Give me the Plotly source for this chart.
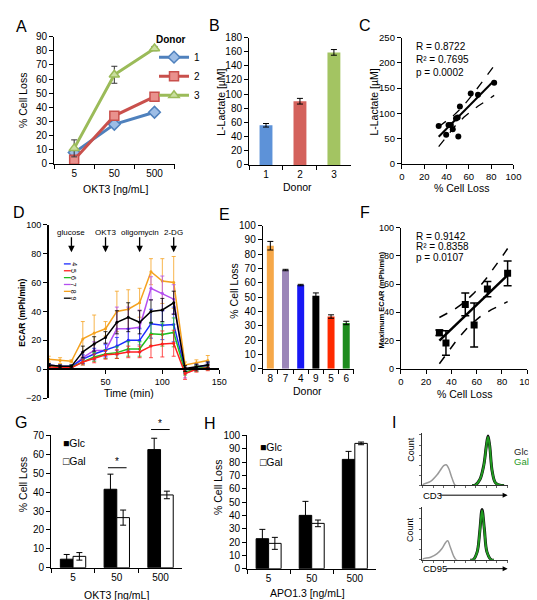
import numpy as np
import plotly.graph_objects as go

W, H = 537, 600
FONT = "Liberation Sans, Arial, sans-serif"

# ---------------- DATA ----------------
# Panel A
a_doses = ["5", "50", "500"]
a_donor1 = [8, 28, 36.5]
a_donor1_err = [1, 1, 2]
a_donor2 = [3, 34, 47.5]
a_donor2_err = [1, 1, 1.5]
a_donor3 = [11, 63, 81.5]
a_donor3_err = [6, 6, 1.5]

# Panel B
b_donors = ["1", "2", "3"]
b_lactate = [56, 90, 159]
b_lactate_err = [2.5, 4, 4]

# Panel C
c_cell_loss = [33, 39.7, 41.8, 43.9, 45.6, 48.5, 50, 50.6, 52, 61.7, 68.2, 82.7]
c_lactate = [75, 57.6, 77, 77, 68.4, 89.7, 92, 54.3, 113.8, 139.5, 137, 160.8]
c_stats = ["R = 0.8722", "R² = 0.7695", "p = 0.0002"]

# Panel D
d_time = [0, 10, 20, 30, 40, 50, 60, 70, 80, 90, 100, 110, 120, 130, 140]
d_series = {
    "8": [7, 6, 5.5, 21, 25, 28, 40, 41.5, 46, 67.5, 61, 60, 3, 4.5, 6],
    "7": [2, 1.5, 1.5, 8, 13, 13, 28, 28, 29, 56, 52.5, 48.5, -3, 0.5, 2],
    "4": [3, 2, 2, 7, 10.5, 13, 16, 20, 20, 31.5, 30.5, 31, -0.5, 1.5, 3],
    "6": [2, 1.5, 1.5, 5, 8.5, 10.5, 11.5, 14, 14, 24.5, 24, 25.5, -2, 0.5, 1.5],
    "5": [1.5, 1.5, 1, 5, 7.5, 10, 10.5, 12, 12, 16, 17.5, 18, -3, 0, 1],
    "9": [3, 2, 2, 12, 17.5, 22, 32.5, 36, 32.5, 40, 41, 46, 0.5, 1.5, 3],
}
d_errors = {
    "8": [2, 2, 1, 12, 12.5, 5, 14, 13.5, 10, 9, 15.5, 18, 2, 2, 3.5],
    "7": [1, 1, 1, 4, 6, 5, 15, 15, 12, 8, 12, 10, 3, 2, 2],
    "4": [1, 1, 1, 3, 4, 4, 6, 8, 8, 10, 10, 12, 2, 2, 2],
    "6": [1, 1, 1, 2, 3, 3, 4, 5, 5, 8, 8, 10, 2, 2, 2],
    "5": [1, 1, 1, 2, 3, 3, 3, 4, 4, 8, 9, 9, 4, 2, 2],
    "9": [1, 1, 1, 4, 5, 4, 8, 10, 8, 8, 8, 8, 2, 2, 2],
}
d_legend_order = ["4", "5", "6", "7", "8", "9"]
d_injections = ["glucose", "OKT3", "oligomycin", "2-DG"]
d_injection_times = [20, 50, 80, 110]

# Panel E
e_donors = ["8", "7", "4", "9", "5", "6"]
e_cell_loss = [86, 69, 58.5, 51, 36.5, 32]
e_cell_loss_err = [3, 0.5, 0.5, 2, 1.2, 1.2]

# Panel F
f_cell_loss = [30.5, 35.7, 51, 58, 68.5, 84.5]
f_max_ecar = [25.5, 18.3, 45.6, 31, 56.5, 67.6]
f_max_ecar_err = [2, 8.7, 8, 15.6, 5.4, 8.7]
f_stats = ["R = 0.9142", "R² = 0.8358", "p = 0.0107"]

# Panel G
g_doses = ["5", "50", "500"]
g_glc = [4.5, 41.5, 62.5]
g_glc_err = [2.5, 8, 6]
g_gal = [6, 26.5, 38.5]
g_gal_err = [2, 4, 2]

# Panel H
h_doses = ["5", "50", "500"]
h_glc = [22.5, 40, 82]
h_glc_err = [7, 10.5, 6]
h_gal = [19, 34, 94]
h_gal_err = [4.5, 2.5, 1]

# Panel I (histogram outlines, fluorescence axis 0-100, relative count)
i_iso_cd3_x = [0, 1, 9.6, 17.3, 21, 25, 28, 30.8, 34.6, 38.5, 40]
i_iso_cd3_y = [0, 0.02, 0.08, 0.21, 0.30, 0.39, 0.41, 0.34, 0.15, 0, 0]
i_cd3_x = [58, 61.5, 67.3, 72, 75, 77, 79, 82, 85.8, 92.3, 96]
i_cd3_glc = [0, 0, 0.11, 0.40, 0.78, 0.98, 0.78, 0.27, 0.05, 0, 0]
i_cd3_gal = [0, 0, 0.11, 0.39, 0.77, 0.96, 0.77, 0.27, 0.05, 0, 0]
i_iso_cd95_x = [0, 1, 9.6, 17.3, 23, 26.9, 29.6, 32.7, 36.5, 39.6, 41]
i_iso_cd95_y = [0, 0.02, 0.05, 0.12, 0.22, 0.33, 0.37, 0.25, 0.08, 0, 0]
i_cd95_x = [56, 59.6, 64.2, 67.3, 70, 72.7, 75.8, 80.8, 84]
i_cd95_glc = [0, 0, 0.15, 0.55, 0.98, 0.60, 0.15, 0, 0]
i_cd95_gal = [0, 0, 0.15, 0.54, 0.96, 0.59, 0.15, 0, 0]

# ---------------- HELPERS ----------------
def fx(px):
    return px / W


def fy(py):
    return 1 - py / H


def axis(**kw):
    base = dict(showline=True, linecolor="black", linewidth=1, ticks="outside",
                ticklen=4, tickcolor="black", tickwidth=1, showgrid=False,
                zeroline=False, fixedrange=True,
                tickfont=dict(size=10, color="black", family=FONT))
    base.update(kw)
    return base


annotations = []
shapes = []


def text(t, px, py, size=10, xanchor="center", yanchor="middle", angle=0,
         color="black"):
    annotations.append(dict(text=t, x=fx(px), y=fy(py), xref="paper", yref="paper",
                            xanchor=xanchor, yanchor=yanchor, showarrow=False,
                            textangle=angle, borderpad=0,
                            font=dict(size=size, color=color, family=FONT)))


def fit_band(x, y, tcrit):
    x = np.asarray(x, float)
    y = np.asarray(y, float)
    n = len(x)
    b, a = np.polyfit(x, y, 1)
    xs = np.linspace(x.min(), x.max(), 60)
    yhat = a + b * xs
    resid = y - (a + b * x)
    s = np.sqrt(np.sum(resid ** 2) / (n - 2))
    sxx = np.sum((x - x.mean()) ** 2)
    se = s * np.sqrt(1 / n + (xs - x.mean()) ** 2 / sxx)
    return xs, yhat, yhat + tcrit * se, yhat - tcrit * se


fig = go.Figure()

# ---------------- PANEL A ----------------
a_specs = [("1", a_donor1, a_donor1_err, "#4f81bd", "#9dbde6", "diamond"),
           ("2", a_donor2, a_donor2_err, "#c9504c", "#e9918d", "square"),
           ("3", a_donor3, a_donor3_err, "#9bbb59", "#c9de9e", "triangle-up")]
for name, vals, err, lc, fc, sym in a_specs:
    fig.add_trace(go.Scatter(
        x=a_doses, y=vals, name=name, mode="lines+markers", xaxis="x", yaxis="y",
        line=dict(color=lc, width=3),
        marker=dict(symbol=sym, size=9, color=fc, line=dict(color=lc, width=1.5)),
        error_y=dict(type="data", array=err, color="#333333", thickness=1, width=3),
        showlegend=True, legend="legend"))

# ---------------- PANEL B ----------------
fig.add_trace(go.Bar(
    x=b_donors, y=b_lactate, xaxis="x2", yaxis="y2", width=0.38,
    marker=dict(color=["#5d92d8", "#d4625c", "#a3c462"], line=dict(width=0)),
    error_y=dict(type="data", array=b_lactate_err, color="black", thickness=1, width=3),
    showlegend=False))

# ---------------- PANEL C ----------------
xs, yh, up, lo = fit_band(c_cell_loss, c_lactate, 2.228)
fig.add_trace(go.Scatter(x=xs, y=up, mode="lines", xaxis="x3", yaxis="y3",
                         line=dict(color="black", width=1.3, dash="dash"), showlegend=False))
fig.add_trace(go.Scatter(x=xs, y=lo, mode="lines", xaxis="x3", yaxis="y3",
                         line=dict(color="black", width=1.3, dash="dash"), showlegend=False))
fig.add_trace(go.Scatter(x=xs, y=yh, mode="lines", xaxis="x3", yaxis="y3",
                         line=dict(color="black", width=2), showlegend=False))
fig.add_trace(go.Scatter(x=c_cell_loss, y=c_lactate, mode="markers", xaxis="x3", yaxis="y3",
                         marker=dict(color="black", size=6), showlegend=False))

# ---------------- PANEL D ----------------
d_colors = {"4": "#1c2cff", "5": "#ff1f1f", "6": "#1fbf1f", "7": "#b44ff0",
            "8": "#f5a21f", "9": "#000000"}
for key in ["8", "7", "4", "6", "5", "9"]:
    fig.add_trace(go.Scatter(
        x=d_time, y=d_series[key], mode="lines+markers", xaxis="x4", yaxis="y4",
        line=dict(color=d_colors[key], width=1.5),
        marker=dict(color=d_colors[key], size=3),
        error_y=dict(type="data", array=d_errors[key], color=d_colors[key],
                     thickness=0.8, width=2),
        showlegend=False))

# ---------------- PANEL E ----------------
fig.add_trace(go.Bar(
    x=e_donors, y=e_cell_loss, xaxis="x5", yaxis="y5", width=0.46,
    marker=dict(color=["#f6a849", "#9b86b8", "#1818f5", "#000000", "#ff2a00", "#1e8c1e"],
                line=dict(width=0)),
    error_y=dict(type="data", array=e_cell_loss_err, color="black", thickness=1, width=3),
    showlegend=False))

# ---------------- PANEL F ----------------
xs, yh, up, lo = fit_band(f_cell_loss, f_max_ecar, 2.776)
fig.add_trace(go.Scatter(x=xs, y=up, mode="lines", xaxis="x6", yaxis="y6",
                         line=dict(color="black", width=1.5, dash="dash"), showlegend=False))
fig.add_trace(go.Scatter(x=xs, y=lo, mode="lines", xaxis="x6", yaxis="y6",
                         line=dict(color="black", width=1.5, dash="dash"), showlegend=False))
fig.add_trace(go.Scatter(x=xs, y=yh, mode="lines", xaxis="x6", yaxis="y6",
                         line=dict(color="black", width=2.5), showlegend=False))
fig.add_trace(go.Scatter(x=f_cell_loss, y=f_max_ecar, mode="markers", xaxis="x6", yaxis="y6",
                         marker=dict(color="black", size=7, symbol="square"),
                         error_y=dict(type="data", array=f_max_ecar_err, color="black",
                                      thickness=1.5, width=4),
                         showlegend=False))

# ---------------- PANEL G / H ----------------
for xa, ya, doses, glc, glc_err, gal, gal_err in [
        ("x7", "y7", g_doses, g_glc, g_glc_err, g_gal, g_gal_err),
        ("x8", "y8", h_doses, h_glc, h_glc_err, h_gal, h_gal_err)]:
    fig.add_trace(go.Bar(
        x=doses, y=glc, xaxis=xa, yaxis=ya, width=0.29, offset=-0.29,
        marker=dict(color="black", line=dict(color="black", width=1)),
        error_y=dict(type="data", array=glc_err, color="black", thickness=1, width=3),
        showlegend=False))
    fig.add_trace(go.Bar(
        x=doses, y=gal, xaxis=xa, yaxis=ya, width=0.29, offset=0,
        marker=dict(color="white", line=dict(color="black", width=1)),
        error_y=dict(type="data", array=gal_err, color="black", thickness=1, width=3),
        showlegend=False))

# ---------------- PANEL I ----------------
for xa, ya, ix, iy, hx, hglc, hgal in [
        ("x9", "y9", i_iso_cd3_x, i_iso_cd3_y, i_cd3_x, i_cd3_glc, i_cd3_gal),
        ("x10", "y10", i_iso_cd95_x, i_iso_cd95_y, i_cd95_x, i_cd95_glc, i_cd95_gal)]:
    fig.add_trace(go.Scatter(x=ix, y=iy, mode="lines", xaxis=xa, yaxis=ya,
                             line=dict(color="#9a9a9a", width=1.5, shape="spline"),
                             showlegend=False))
    fig.add_trace(go.Scatter(x=hx, y=hglc, mode="lines", xaxis=xa, yaxis=ya,
                             line=dict(color="#111111", width=3, shape="spline"),
                             showlegend=False))
    fig.add_trace(go.Scatter(x=hx, y=hgal, mode="lines", xaxis=xa, yaxis=ya,
                             line=dict(color="#1f9a1f", width=2, shape="spline"),
                             showlegend=False))

# ---------------- LAYOUT AXES ----------------
cat_x = dict(type="category", tickson="boundaries")
small_tf = dict(size=9, color="black", family=FONT)
layout_axes = dict(
    # A
    xaxis=axis(domain=[fx(44), fx(167)], anchor="y", range=[-0.5, 2.5], **cat_x),
    yaxis=axis(domain=[fy(153), fy(23)], anchor="x", range=[0, 90], dtick=10),
    # B
    xaxis2=axis(domain=[fx(243), fx(347)], anchor="y2", range=[-0.5, 2.5], **cat_x),
    yaxis2=axis(domain=[fy(154), fy(24)], anchor="x2", range=[0, 180], dtick=20),
    # C
    xaxis3=axis(domain=[fx(399), fx(513)], anchor="y3", range=[0, 100], dtick=20,
                tickfont=dict(size=9.5, color="black", family=FONT)),
    yaxis3=axis(domain=[fy(153), fy(24)], anchor="x3", range=[0, 250], dtick=50,
                tickfont=dict(size=9.5, color="black", family=FONT)),
    # D
    xaxis4=axis(domain=[fx(38.5), fx(212.5)], anchor="free", position=fy(362.5),
                range=[0, 150], tickvals=[50, 100, 150], linewidth=1.5, tickfont=small_tf),
    yaxis4=axis(domain=[fy(392), fy(215)], anchor="x4", range=[-20, 100], dtick=20,
                linewidth=1.5, tickfont=small_tf),
    # E
    xaxis5=axis(domain=[fx(257), fx(350)], anchor="y5", range=[-0.5, 5.5], **cat_x),
    yaxis5=axis(domain=[fy(362), fy(216)], anchor="x5", range=[0, 100], dtick=10),
    # F
    xaxis6=axis(domain=[fx(398), fx(527)], anchor="y6", range=[0, 100], dtick=20,
                tickfont=dict(size=9.5, color="black", family=FONT)),
    yaxis6=axis(domain=[fy(362), fy(218)], anchor="x6", range=[0, 100], dtick=20,
                tickfont=small_tf),
    # G
    xaxis7=axis(domain=[fx(41), fx(175)], anchor="y7", range=[-0.5, 2.5], **cat_x),
    yaxis7=axis(domain=[fy(565), fy(430)], anchor="x7", range=[0, 70], dtick=10),
    # H
    xaxis8=axis(domain=[fx(241), fx(373)], anchor="y8", range=[-0.5, 2.5], **cat_x),
    yaxis8=axis(domain=[fy(566), fy(430)], anchor="x8", range=[0, 100], dtick=10),
    # I
    xaxis9=axis(domain=[fx(420), fx(507)], anchor="y9", range=[0, 100], dtick=12.5,
                showticklabels=False, ticklen=2, linecolor="#333333", tickcolor="#666666"),
    yaxis9=axis(domain=[fy(481), fy(428)], anchor="x9", range=[0, 1.03], dtick=0.2,
                showticklabels=False, ticklen=2, linecolor="#333333", tickcolor="#666666"),
    xaxis10=axis(domain=[fx(420), fx(507)], anchor="y10", range=[0, 100], dtick=12.5,
                 showticklabels=False, ticklen=2, linecolor="#333333", tickcolor="#666666"),
    yaxis10=axis(domain=[fy(557), fy(503)], anchor="x10", range=[0, 1.03], dtick=0.2,
                 showticklabels=False, ticklen=2, linecolor="#333333", tickcolor="#666666"),
)

# ---------------- TEXT ----------------
for letter, px, py in [("A", 10.5, 13), ("B", 208, 12), ("C", 361, 12), ("D", 8, 203),
                       ("E", 218, 205), ("F", 361, 203), ("G", 10, 417), ("H", 203, 418),
                       ("I", 391, 417)]:
    text(letter, px, py, size=16)

# axis titles
text("% Cell Loss", 13, 88, size=10.5, angle=-90)
text("OKT3 [ng/mL]", 107, 179, size=10.5)
text("L-Lactate [µM]", 215, 90, size=10.5, angle=-90)
text("Donor", 292, 177, size=10.5)
text("L-Lactate [µM]", 371, 90, size=10.5, angle=-90)
text("% Cell Loss", 460, 178, size=10.5)
text("<b>ECAR (mPh/min)</b>", 11, 305, size=8.5, angle=-90)
text("Time (min)", 120, 387, size=10.5)
text("% Cell Loss", 228, 283, size=10.5, angle=-90)
text("Donor", 303, 385, size=10.5)
text("<b>Maximum ECAR (mPh/min)</b>", 378, 292, size=7.5, angle=-90)
text("% Cell Loss", 463, 388, size=10.5)
text("% Cell Loss", 13, 480, size=10.5, angle=-90)
text("OKT3 [ng/mL]", 108, 593, size=10.5)
text("% Cell Loss", 212, 483, size=10.5, angle=-90)
text("APO1.3 [ng/mL]", 303, 591, size=10.5)

# stats text
for i, s in enumerate(c_stats):
    text(s, 412, 33 + i * 13.5, size=10, xanchor="left")
for i, s in enumerate(f_stats):
    text(s, 412, 227 + i * 10.5, size=10, xanchor="left")

# G/H legends
text("■Glc", 52, 438, size=10.5, xanchor="left")
text("□Gal", 52, 456, size=10.5, xanchor="left")
text("■Glc", 253, 442, size=10.5, xanchor="left")
text("□Gal", 253, 457, size=10.5, xanchor="left")

# G significance
for (x0, x1, yl) in [(99, 118, 463), (143, 162, 424)]:
    shapes.append(dict(type="line", xref="paper", yref="paper", x0=fx(x0), x1=fx(x1),
                       y0=fy(yl), y1=fy(yl), line=dict(color="black", width=1)))
    text("*", (x0 + x1) / 2, yl - 6, size=10)

# D injection arrows
for name, t in zip(d_injections, d_injection_times):
    annotations.append(dict(text=name, x=t, y=fy(243), xref="x4", yref="paper",
                            ax=0, ay=-20, showarrow=True, arrowhead=2, arrowsize=1,
                            arrowwidth=1.3, arrowcolor="black", borderpad=0,
                            font=dict(size=8, color="black", family=FONT)))

# D legend (compact)
for i, key in enumerate(d_legend_order):
    yk = 255 + i * 7
    shapes.append(dict(type="line", xref="paper", yref="paper", x0=fx(54), x1=fx(61),
                       y0=fy(yk), y1=fy(yk), line=dict(color=d_colors[key], width=1.3)))
    text(key, 64, yk, size=7, angle=90)

# I labels
text("Count", 408, 444, size=9, angle=-90)
text("Count", 408, 526, size=9, angle=-90)
text("CD3", 420, 491, size=9.5, xanchor="left")
text("CD95", 420, 566, size=9.5, xanchor="left")
for yy, x_start in [(491, 438), (566, 444)]:
    annotations.append(dict(text="", x=fx(507), y=fy(yy), xref="paper", yref="paper",
                            ax=-(507 - x_start), ay=0, showarrow=True, arrowhead=2,
                            arrowsize=1, arrowwidth=1, arrowcolor="black"))
text("Glc", 512, 446, size=9.5, xanchor="left", color="#222222")
text("Gal", 512, 457, size=9.5, xanchor="left", color="#1f9a1f")

fig.update_layout(
    width=W, height=H, autosize=False,
    margin=dict(l=0, r=0, t=0, b=0),
    paper_bgcolor="white", plot_bgcolor="white",
    font=dict(family=FONT, color="black"),
    annotations=annotations, shapes=shapes,
    legend=dict(x=fx(146), y=fy(16), xanchor="left", yanchor="top",
                title=dict(text="<b>Donor</b>", font=dict(size=10, family=FONT)),
                font=dict(size=10, family=FONT), bgcolor="rgba(0,0,0,0)",
                tracegroupgap=0, itemwidth=30),
    **layout_axes,
)

fig.write_html("out.html")
